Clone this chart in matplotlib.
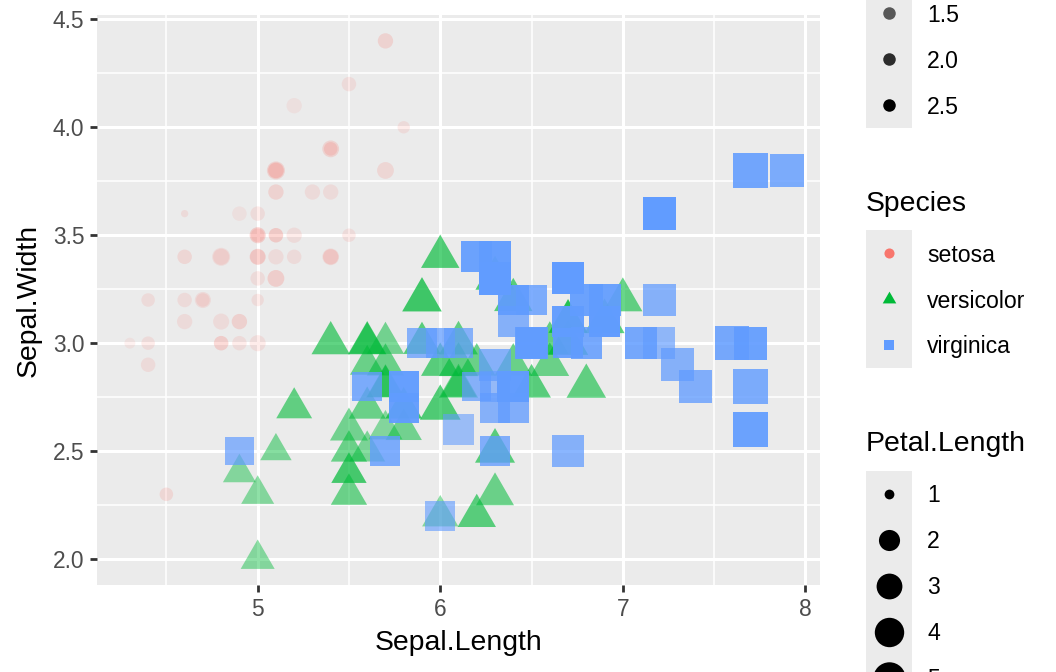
import numpy as np
import matplotlib
matplotlib.use("Agg")
import matplotlib.pyplot as plt
from matplotlib.path import Path
from matplotlib.patches import Rectangle
from matplotlib.ticker import MultipleLocator

# iris: Sepal.Length, Sepal.Width, Petal.Length, Petal.Width (setosa, versicolor, virginica)
sepal_length = [
    5.1, 4.9, 4.7, 4.6, 5.0, 5.4, 4.6, 5.0, 4.4, 4.9, 5.4, 4.8, 4.8, 4.3, 5.8, 5.7, 5.4, 5.1, 5.7, 5.1,
    5.4, 5.1, 4.6, 5.1, 4.8, 5.0, 5.0, 5.2, 5.2, 4.7, 4.8, 5.4, 5.2, 5.5, 4.9, 5.0, 5.5, 4.9, 4.4, 5.1,
    5.0, 4.5, 4.4, 5.0, 5.1, 4.8, 5.1, 4.6, 5.3, 5.0,
    7.0, 6.4, 6.9, 5.5, 6.5, 5.7, 6.3, 4.9, 6.6, 5.2, 5.0, 5.9, 6.0, 6.1, 5.6, 6.7, 5.6, 5.8, 6.2, 5.6,
    5.9, 6.1, 6.3, 6.1, 6.4, 6.6, 6.8, 6.7, 6.0, 5.7, 5.5, 5.5, 5.8, 6.0, 5.4, 6.0, 6.7, 6.3, 5.6, 5.5,
    5.5, 6.1, 5.8, 5.0, 5.6, 5.7, 5.7, 6.2, 5.1, 5.7,
    6.3, 5.8, 7.1, 6.3, 6.5, 7.6, 4.9, 7.3, 6.7, 7.2, 6.5, 6.4, 6.8, 5.7, 5.8, 6.4, 6.5, 7.7, 7.7, 6.0,
    6.9, 5.6, 7.7, 6.3, 6.7, 7.2, 6.2, 6.1, 6.4, 7.2, 7.4, 7.9, 6.4, 6.3, 6.1, 7.7, 6.3, 6.4, 6.0, 6.9,
    6.7, 6.9, 5.8, 6.8, 6.7, 6.7, 6.3, 6.5, 6.2, 5.9]
sepal_width = [
    3.5, 3.0, 3.2, 3.1, 3.6, 3.9, 3.4, 3.4, 2.9, 3.1, 3.7, 3.4, 3.0, 3.0, 4.0, 4.4, 3.9, 3.5, 3.8, 3.8,
    3.4, 3.7, 3.6, 3.3, 3.4, 3.0, 3.4, 3.5, 3.4, 3.2, 3.1, 3.4, 4.1, 4.2, 3.1, 3.2, 3.5, 3.6, 3.0, 3.4,
    3.5, 2.3, 3.2, 3.5, 3.8, 3.0, 3.8, 3.2, 3.7, 3.3,
    3.2, 3.2, 3.1, 2.3, 2.8, 2.8, 3.3, 2.4, 2.9, 2.7, 2.0, 3.0, 2.2, 2.9, 2.9, 3.1, 3.0, 2.7, 2.2, 2.5,
    3.2, 2.8, 2.5, 2.8, 2.9, 3.0, 2.8, 3.0, 2.9, 2.6, 2.4, 2.4, 2.7, 2.7, 3.0, 3.4, 3.1, 2.3, 3.0, 2.5,
    2.6, 3.0, 2.6, 2.3, 2.7, 3.0, 2.9, 2.9, 2.5, 2.8,
    3.3, 2.7, 3.0, 2.9, 3.0, 3.0, 2.5, 2.9, 2.5, 3.6, 3.2, 2.7, 3.0, 2.5, 2.8, 3.2, 3.0, 3.8, 2.6, 2.2,
    3.2, 2.8, 2.8, 2.7, 3.3, 3.2, 2.8, 3.0, 2.8, 3.0, 2.8, 3.8, 2.8, 2.8, 2.6, 3.0, 3.4, 3.1, 3.0, 3.1,
    3.1, 3.1, 2.7, 3.2, 3.3, 3.0, 2.5, 3.0, 3.4, 3.0]
petal_length = [
    1.4, 1.4, 1.3, 1.5, 1.4, 1.7, 1.4, 1.5, 1.4, 1.5, 1.5, 1.6, 1.4, 1.1, 1.2, 1.5, 1.3, 1.4, 1.7, 1.5,
    1.7, 1.5, 1.0, 1.7, 1.9, 1.6, 1.6, 1.5, 1.4, 1.6, 1.6, 1.5, 1.5, 1.4, 1.5, 1.2, 1.3, 1.4, 1.3, 1.5,
    1.3, 1.3, 1.3, 1.6, 1.9, 1.4, 1.6, 1.4, 1.5, 1.4,
    4.7, 4.5, 4.9, 4.0, 4.6, 4.5, 4.7, 3.3, 4.6, 3.9, 3.5, 4.2, 4.0, 4.7, 3.6, 4.4, 4.5, 4.1, 4.5, 3.9,
    4.8, 4.0, 4.9, 4.7, 4.3, 4.4, 4.8, 5.0, 4.5, 3.5, 3.8, 3.7, 3.9, 5.1, 4.5, 4.5, 4.7, 4.4, 4.1, 4.0,
    4.4, 4.6, 4.0, 3.3, 4.2, 4.2, 4.2, 4.3, 3.0, 4.1,
    6.0, 5.1, 5.9, 5.6, 5.8, 6.6, 4.5, 6.3, 5.8, 6.1, 5.1, 5.3, 5.5, 5.0, 5.1, 5.3, 5.5, 6.7, 6.9, 5.0,
    5.7, 4.9, 6.7, 4.9, 5.7, 6.0, 4.8, 4.9, 5.6, 5.8, 6.1, 6.4, 5.6, 5.1, 5.6, 6.1, 5.6, 5.5, 4.8, 5.4,
    5.6, 5.1, 5.1, 5.9, 5.7, 5.2, 5.0, 5.2, 5.4, 5.1]
petal_width = [
    0.2, 0.2, 0.2, 0.2, 0.2, 0.4, 0.3, 0.2, 0.2, 0.1, 0.2, 0.2, 0.1, 0.1, 0.2, 0.4, 0.4, 0.3, 0.3, 0.3,
    0.2, 0.4, 0.2, 0.5, 0.2, 0.2, 0.4, 0.2, 0.2, 0.2, 0.2, 0.4, 0.1, 0.2, 0.2, 0.2, 0.2, 0.1, 0.2, 0.2,
    0.3, 0.3, 0.2, 0.6, 0.4, 0.3, 0.2, 0.2, 0.2, 0.2,
    1.4, 1.5, 1.5, 1.3, 1.5, 1.3, 1.6, 1.0, 1.3, 1.4, 1.0, 1.5, 1.0, 1.4, 1.3, 1.4, 1.5, 1.0, 1.5, 1.1,
    1.8, 1.3, 1.5, 1.2, 1.3, 1.4, 1.4, 1.7, 1.5, 1.0, 1.1, 1.0, 1.2, 1.6, 1.5, 1.6, 1.5, 1.3, 1.3, 1.3,
    1.2, 1.4, 1.2, 1.0, 1.3, 1.2, 1.3, 1.3, 1.1, 1.3,
    2.5, 1.9, 2.1, 1.8, 2.2, 2.1, 1.7, 1.8, 1.8, 2.5, 2.0, 1.9, 2.1, 2.0, 2.4, 2.3, 1.8, 2.2, 2.3, 1.5,
    2.3, 2.0, 2.0, 1.8, 2.1, 1.8, 1.8, 1.8, 2.1, 1.6, 1.9, 2.0, 2.2, 1.5, 1.4, 2.3, 2.4, 1.8, 1.8, 2.1,
    2.4, 2.3, 1.9, 2.3, 2.5, 2.3, 1.9, 2.0, 2.3, 1.8]
species = ["setosa"] * 50 + ["versicolor"] * 50 + ["virginica"] * 50

species_levels = ["setosa", "versicolor", "virginica"]
species_colors = {"setosa": "#F8766D", "versicolor": "#00BA38", "virginica": "#619CFF"}
width_breaks = [0.5, 1.0, 1.5, 2.0, 2.5]
length_breaks = [1, 2, 3, 4, 5, 6]
x_ticks = [5, 6, 7, 8]
y_ticks = [2.0, 2.5, 3.0, 3.5, 4.0, 4.5]

# ggplot pt -> matplotlib pt at dpi 100 (ref is ~2.58 px per pt)
K = 2.58 / (100 / 72)
FONT = "Liberation Sans"

# R triangle (pch 17), centred on its centroid
tri = Path([(0, 1.5551), (1.3468, -0.7776), (-1.3468, -0.7776), (0, 1.5551)],
           [Path.MOVETO, Path.LINETO, Path.LINETO, Path.CLOSEPOLY])
shape_map = {"setosa": "o", "versicolor": tri, "virginica": "s"}


def gg_size(pl):
    pl = np.asarray(pl, dtype=float)
    return 1 + 5 * np.sqrt((pl - 1) / (6.9 - 1))


def marker_area(size, shp, border=False):
    fs = np.asarray(size) * 72.27 / 25.4 + 0.945
    d = 0.75 * fs
    if shp is tri:
        d = 0.75 * 1.5551 * fs
    if border:
        d = d + 0.945
    return (d * K) ** 2


def gg_alpha(pw):
    pw = np.asarray(pw, dtype=float)
    return np.clip(0.1 + 0.9 * (pw - 0.1) / (2.5 - 0.1), 0, 1)


fig = plt.figure(figsize=(10.56, 6.72), dpi=100)
ax = fig.add_axes([97 / 1056, 1 - 585 / 672, (820 - 97) / 1056, (585 - 15) / 672])
ax.set_facecolor("#EBEBEB")
for s in ax.spines.values():
    s.set_visible(False)

xs = np.array(sepal_length)
ys = np.array(sepal_width)
sz = gg_size(petal_length)
al = gg_alpha(petal_width)
sp = np.array(species)

# draw in row order like ggplot (species blocks are contiguous)
for lev in species_levels:
    m = sp == lev
    base = matplotlib.colors.to_rgb(species_colors[lev])
    rgba = [(base[0], base[1], base[2], float(a)) for a in al[m]]
    ax.scatter(xs[m], ys[m], s=marker_area(sz[m], shape_map[lev]), color=rgba,
               marker=shape_map[lev], linewidths=0, zorder=3)

ax.set_xlim(4.3 - 0.18, 7.9 + 0.18)
ax.set_ylim(2.0 - 0.12, 4.4 + 0.12)
ax.set_xticks(x_ticks)
ax.set_yticks(y_ticks)
ax.set_xticklabels([str(v) for v in x_ticks])
ax.set_yticklabels([f"{v:.1f}" for v in y_ticks])
ax.xaxis.set_minor_locator(MultipleLocator(0.5))
ax.yaxis.set_minor_locator(MultipleLocator(0.25))
ax.grid(which="major", color="white", linewidth=2.2)
ax.grid(which="minor", color="white", linewidth=1.1)
ax.set_axisbelow(True)
ax.tick_params(which="major", length=2.75 * K, width=2.0, color="#333333",
               labelsize=8.8 * K, labelcolor="#4D4D4D", pad=2.2 * K)
ax.tick_params(which="minor", length=0)
for lab in ax.get_xticklabels() + ax.get_yticklabels():
    lab.set_fontfamily(FONT)
ax.set_xlabel("Sepal.Length", fontsize=11 * K, fontfamily=FONT, labelpad=3.5 * K)
ax.set_ylabel("Sepal.Width", fontsize=11 * K, fontfamily=FONT, labelpad=4.2 * K)

# legends, placed in pixel coords (they overflow the figure like in the reference)
lg = fig.add_axes([0, 0, 1, 1])
lg.set_xlim(0, 1056)
lg.set_ylim(672, 0)
lg.axis("off")
lg.patch.set_alpha(0)
key_x0, key_w, key_h, lab_x = 866, 46, 46, 927


def visible(y):
    return -8 < y < 690


def key_box(y_first, n):
    lg.add_patch(Rectangle((key_x0, y_first - key_h / 2), key_w, key_h * n,
                           facecolor="#EBEBEB", edgecolor="none", zorder=1))


def title(y, txt):
    if visible(y):
        lg.text(key_x0, y + 3, txt, fontsize=11 * K, fontfamily=FONT, va="center", ha="left")


def label(y, txt):
    if visible(y):
        lg.text(lab_x, y + 2, txt, fontsize=8.9 * K, fontfamily=FONT, va="center", ha="left")


cx = key_x0 + key_w / 2

# Petal.Width (alpha) - upper part runs off the top
y0 = 105 - key_h * (len(width_breaks) - 1)
title(y0 - 52, "Petal.Width")
key_box(y0, len(width_breaks))
for i, b in enumerate(width_breaks):
    y = y0 + i * key_h
    lg.scatter([cx], [y], s=marker_area(1.5, "o", border=True),
               color=[(0, 0, 0, float(gg_alpha(b)))], marker="o", linewidths=0, zorder=3)
    label(y, f"{b:.1f}")

# Species
title(201, "Species")
key_box(253, len(species_levels))
for i, lev in enumerate(species_levels):
    y = 253 + i * key_h
    lg.scatter([cx], [y], s=marker_area(1.5, shape_map[lev]), color=species_colors[lev],
               marker=shape_map[lev], linewidths=0, zorder=3)
    label(y, lev)

# Petal.Length (size) - lower part runs off the bottom
title(441, "Petal.Length")
key_box(494, len(length_breaks))
for i, b in enumerate(length_breaks):
    y = 494 + i * key_h
    lg.scatter([cx], [y], s=marker_area(float(gg_size(b)), "o", border=True), color="black",
               marker="o", linewidths=0, zorder=3)
    label(y, str(b))

fig.savefig("out.png", dpi=100)
